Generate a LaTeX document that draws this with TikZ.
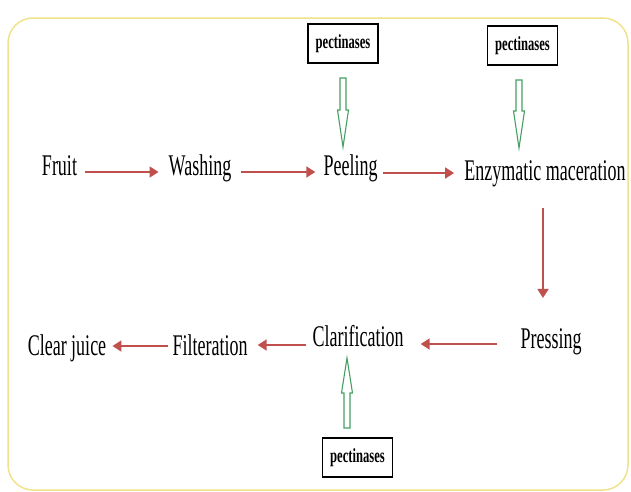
\documentclass[tikz,border=0pt]{standalone}
\usepackage{fontspec}
\setmainfont{Liberation Serif}[FakeStretch=0.6]
\newfontfamily\pecfont{Liberation Serif}[FakeStretch=0.63]
\usetikzlibrary{arrows.meta,calc}
\definecolor{redarr}{RGB}{192,80,77}
\definecolor{greenarr}{RGB}{70,160,100}
\definecolor{framecol}{RGB}{240,226,140}
\tikzset{
  stepname/.style={inner sep=0pt, anchor=base, font=\fontsize{30}{32}\selectfont},
  pecbox/.style={draw=black, line width=1.3pt, inner sep=0pt, minimum width=70pt, minimum height=39pt, font=\pecfont\bfseries\fontsize{20}{22}\selectfont},
  redflow/.style={draw=redarr, line width=1.8pt, -{Triangle[length=9pt,width=11pt]}},
  hollow/.style={draw=greenarr, line width=1.1pt, fill=white, line join=miter}
}
\begin{document}
\begin{tikzpicture}[x=1pt,y=-1pt]
\useasboundingbox (0,0) rectangle (631,491);
\draw[framecol, line width=1.5pt, rounded corners=25pt] (8,18) rectangle (628,490);

% process steps
\node[stepname] (fruit) at (59.5,175) {Fruit};
\node[stepname] (wash) at (200,175) {Washing};
\node[stepname] (peel) at (350.5,175) {Peeling};
\node[stepname] (enz) at (545,180) {Enzymatic maceration};
\node[stepname] (press) at (551,348) {Pressing};
\node[stepname] (clar) at (358,346) {Clarification};
\node[stepname] (filt) at (210,355) {Filteration};
\node[stepname] (clear) at (67,355) {Clear juice};

% enzyme boxes
\node[pecbox] (pec1) at (343,43.5) {pectinases};
\node[pecbox] (pec2) at (522.5,45.5) {pectinases};
\node[pecbox] (pec3) at (357.5,457.5) {pectinases};

% red flow arrows
\draw[redflow, shorten <=8pt, shorten >=10pt] ([yshift=3pt]fruit.base east) -- ([yshift=3pt]fruit.base east -| wash.west);
\draw[redflow, shorten <=10pt, shorten >=8pt] ([yshift=3pt]wash.base east) -- ([yshift=3pt]wash.base east -| peel.west);
\draw[redflow, shorten <=5pt, shorten >=10pt] ([yshift=2pt]peel.base east) -- ([yshift=2pt]peel.base east -| enz.west);
\draw[redflow, shorten <=21pt, shorten >=30pt] ([xshift=-2pt]enz.south) -- ([xshift=-2pt]enz.south |- press.north);
\draw[redflow, shorten <=23pt, shorten >=17pt] ([yshift=4pt]press.base west) -- ([yshift=4pt]press.base west -| clar.east);
\draw[redflow, shorten <=6pt, shorten >=10pt] ([yshift=1pt]clar.base west) -- ([yshift=1pt]clar.base west -| filt.east);
\draw[redflow, shorten <=4pt, shorten >=6pt] ([yshift=9pt]filt.base west) -- ([yshift=9pt]filt.base west -| clear.east);

% green hollow arrows
\coordinate (g1) at (343,147);
\coordinate (g2) at (519,148);
\coordinate (g3) at (347,358);
\begin{scope}[shift={(g1)}]
\draw[hollow] (0,0) -- (-5.5,-37) -- (-3,-37) -- (-3,-69) -- (3,-69) -- (3,-37) -- (5.5,-37) -- cycle;
\end{scope}
\begin{scope}[shift={(g2)}]
\draw[hollow] (0,0) -- (-5.5,-37) -- (-3,-37) -- (-3,-68) -- (3,-68) -- (3,-37) -- (5.5,-37) -- cycle;
\end{scope}
\begin{scope}[shift={(g3)}]
\draw[hollow] (0,0) -- (-5.5,35) -- (-3,35) -- (-3,70) -- (3,70) -- (3,35) -- (5.5,35) -- cycle;
\end{scope}
\end{tikzpicture}
\end{document}
